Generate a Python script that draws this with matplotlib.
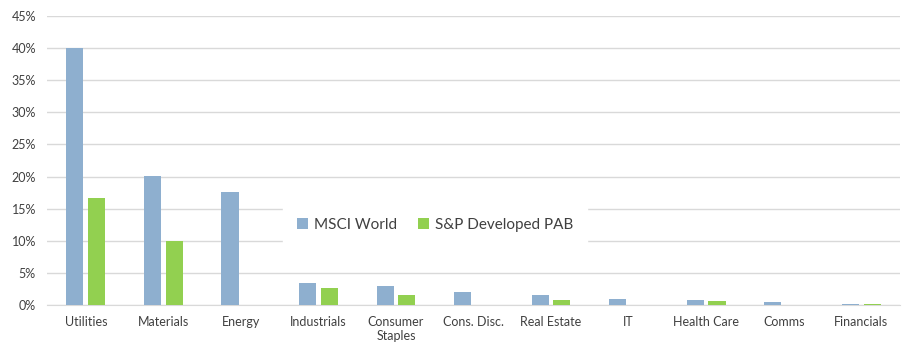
import matplotlib
matplotlib.use("Agg")
import matplotlib.pyplot as plt
import numpy as np
from matplotlib.ticker import PercentFormatter

categories = ["Utilities", "Materials", "Energy", "Industrials", "Consumer\nStaples",
              "Cons. Disc.", "Real Estate", "IT", "Health Care", "Comms", "Financials"]
msci_world = [40.0, 20.1, 17.6, 3.5, 3.0, 2.1, 1.5, 1.0, 0.8, 0.5, 0.2]
sp_pab = [16.6, 10.0, 0.0, 2.65, 1.5, 0.0, 0.8, 0.0, 0.6, 0.0, 0.1]

plt.rcParams['font.family'] = ['Lato', 'DejaVu Sans']

fig = plt.figure(figsize=(9.14, 3.56), dpi=100)
ax = fig.add_axes([47/914, 51/356, 853/914, 289/356])

x = np.arange(len(categories))
w = 0.22
ax.bar(x - 0.14, msci_world, w, color="#8EAFCF", label="MSCI World", zorder=3)
ax.bar(x + 0.14, sp_pab, w, color="#92D050", label="S&P Developed PAB", zorder=3)

ax.set_xlim(-0.5, len(categories) - 0.5)
ax.set_ylim(0, 45)
ax.set_yticks(np.arange(0, 46, 5))
ax.yaxis.set_major_formatter(PercentFormatter(decimals=0))
ax.set_xticks(x)
ax.set_xticklabels(categories)
ax.grid(axis="y", color="#D9D9D9", linewidth=1, zorder=0)
for s in ["top", "right", "left"]:
    ax.spines[s].set_visible(False)
ax.spines["bottom"].set_color("#D9D9D9")
ax.tick_params(length=0, labelsize=9, colors="#404040")
ax.tick_params(axis="y", pad=8)
ax.tick_params(axis="x", pad=8)

leg = ax.legend(loc="center", bbox_to_anchor=(0.455, 0.277), ncol=2, frameon=True,
                fontsize=11, handlelength=0.7, handleheight=0.7, columnspacing=1.4,
                handletextpad=0.4, borderpad=0.9, borderaxespad=0)
leg.get_frame().set_edgecolor("white")
leg.get_frame().set_facecolor("white")
leg.get_frame().set_alpha(1)
leg.get_frame().set_boxstyle("square", pad=0)
for t in leg.get_texts():
    t.set_color("#404040")

fig.savefig("out.png", dpi=100)
